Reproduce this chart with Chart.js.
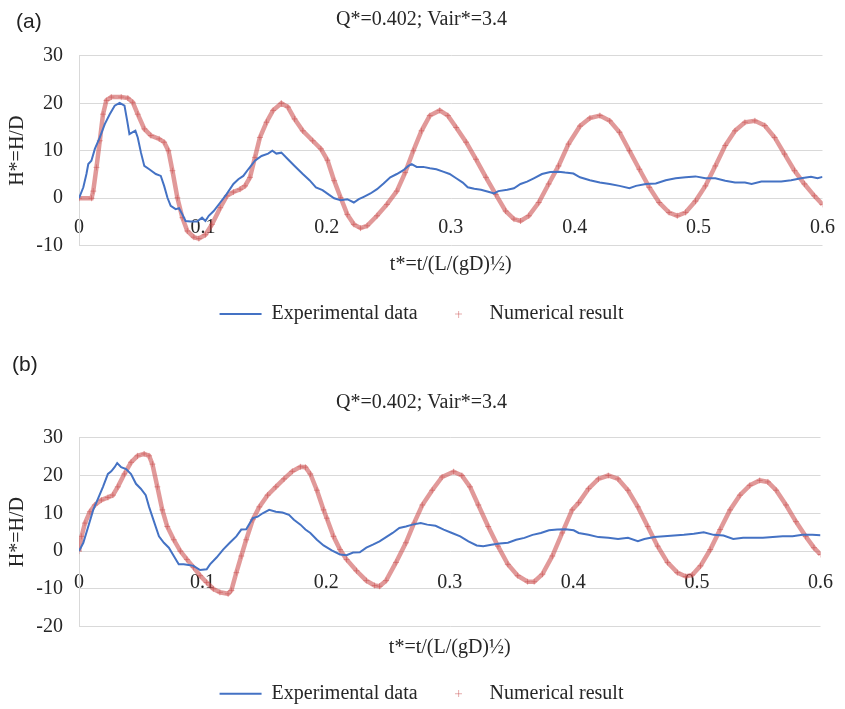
<!DOCTYPE html>
<html>
<head>
<meta charset="utf-8">
<script src="https://cdn.jsdelivr.net/npm/chart.js@4.4.0/dist/chart.umd.min.js"></script>
<style>
  body { margin: 0; background: #fff; overflow: hidden; width: 845px; height: 709px; position: relative; }
  .panel { position: absolute; left: 0; }
  .panel canvas { display: block; }
  .tag { position: absolute; font-family: "Liberation Sans", Arial, sans-serif; font-size: 21px; color: #222; line-height: 24px; }
</style>
</head>
<body>
<div class="panel" style="top:0"><canvas id="chartA" width="845" height="336"></canvas></div>
<div class="panel" style="top:336px"><canvas id="chartB" width="845" height="380"></canvas></div>
<div class="tag" style="left:16px; top:9px">(a)</div>
<div class="tag" style="left:12px; top:352px">(b)</div>
<script>
// labels
const titleText = 'Q*=0.402; Vair*=3.4';
const xTitleText = 't*=t/(L/(gD)½)';
const yTitleText = 'H*=H/D';
const seriesNames = ['Experimental data', 'Numerical result'];
const xRange = [0, 0.6];
const yRangeA = [-10, 30];
const yRangeB = [-20, 30];

// (a) experimental, [t*, H*]
const expA = [
  [0,0],[0.0035,2.3],[0.006,5.1],[0.0075,7.2],[0.010,7.9],[0.0128,10.4],[0.0168,12.8],[0.0208,15.6],
  [0.0248,17.7],[0.0288,19.5],[0.0328,20.1],[0.0367,19.5],[0.0389,16.3],[0.0407,13.5],[0.0434,13.9],
  [0.0455,14.2],[0.0474,12.8],[0.050,9.6],[0.0527,6.8],[0.0567,6.1],[0.062,5.1],[0.066,4.7],[0.0687,2.6],
  [0.0714,0.1],[0.074,-1.6],[0.078,-2.3],[0.0807,-2.1],[0.0834,-3.4],[0.086,-4.8],[0.090,-4.9],[0.0953,-4.9],
  [0.0993,-4.1],[0.102,-4.8],[0.1047,-3.7],[0.1087,-2.7],[0.114,-0.9],[0.119,0.8],[0.1246,3.0],[0.1286,4.0],
  [0.1326,4.7],[0.1366,6.1],[0.142,7.9],[0.1473,8.9],[0.1526,9.4],[0.156,10],[0.1593,9.4],[0.1633,9.6],
  [0.1686,8.2],[0.174,6.8],[0.1806,5.1],[0.186,3.8],[0.1912,2.3],[0.1965,1.7],[0.2019,0.7],[0.2059,0],
  [0.2112,-0.4],[0.2165,-0.2],[0.2218,-0.9],[0.2258,-0.2],[0.2298,0.3],[0.2352,1],[0.2405,1.9],[0.2458,3.1],
  [0.2512,4.4],[0.2565,5.1],[0.2618,5.9],[0.2658,6.8],[0.2685,7.2],[0.2725,6.6],[0.2778,6.6],[0.2832,6.3],
  [0.2884,6.1],[0.2938,5.6],[0.2991,5.1],[0.3044,4.2],[0.3097,3.3],[0.3137,2.3],[0.319,2.0],[0.3244,1.8],
  [0.331,1.3],[0.335,1.0],[0.3384,1.5],[0.3456,1.8],[0.351,2.1],[0.3563,3.0],[0.3616,3.5],[0.367,4.2],
  [0.3736,5.1],[0.3803,5.5],[0.387,5.6],[0.3923,5.4],[0.399,5.2],[0.4043,4.4],[0.4123,3.8],[0.4203,3.3],
  [0.4283,3.0],[0.4362,2.6],[0.4442,2.1],[0.4495,2.6],[0.4575,3.0],[0.4655,3.1],[0.4735,3.8],[0.4815,4.2],
  [0.4895,4.4],[0.4975,4.6],[0.5055,4.2],[0.5135,4.2],[0.5215,3.7],[0.5294,3.3],[0.5374,3.3],[0.5428,3.0],
  [0.5507,3.5],[0.5587,3.5],[0.5667,3.5],[0.5747,3.8],[0.5827,4.2],[0.5907,4.5],[0.596,4.2],[0.6,4.5]
];

// (a) numerical
const numA = [
  [0,0],[0.0101,0],[0.0115,1.5],[0.0141,6.5],[0.0168,12.1],[0.0194,17.7],[0.0221,20.6],[0.0261,21.3],
  [0.0341,21.3],[0.0394,21.1],[0.0434,20.2],[0.0474,17.7],[0.0527,14.6],[0.058,13.2],[0.0647,12.5],
  [0.0687,11.8],[0.0722,10],[0.0754,5.8],[0.0794,0.1],[0.0834,-4.1],[0.0874,-6.9],[0.0927,-8.2],
  [0.0967,-8.5],[0.102,-7.7],[0.1073,-5.5],[0.114,-2],[0.1193,0.5],[0.1246,1.3],[0.13,1.9],[0.134,2.6],
  [0.138,4.4],[0.142,8.6],[0.146,12.8],[0.1513,16],[0.1566,18.5],[0.1633,20],[0.1686,19.2],[0.174,16.7],
  [0.1806,14.2],[0.1886,12.1],[0.1952,10.4],[0.2005,8],[0.2059,3.7],[0.2112,0.1],[0.2165,-3.4],
  [0.2218,-5.5],[0.2272,-6.3],[0.2325,-5.8],[0.2405,-3.7],[0.2485,-1.3],[0.2565,1.5],[0.2632,5.4],
  [0.2698,10],[0.2764,14.2],[0.2831,17.4],[0.2911,18.5],[0.2977,17.4],[0.3044,14.9],[0.3124,11.8],
  [0.3204,8.2],[0.3284,4.4],[0.3363,0.8],[0.3443,-2.7],[0.351,-4.4],[0.3563,-4.8],[0.363,-3.7],
  [0.371,-0.9],[0.379,3],[0.387,6.8],[0.395,11.4],[0.4043,15.2],[0.4123,16.9],[0.4203,17.4],[0.4283,16.3],
  [0.4362,13.9],[0.4442,10],[0.4522,6.1],[0.4602,2.3],[0.4682,-0.9],[0.4762,-3],[0.4828,-3.7],[0.4895,-3],
  [0.4975,-0.6],[0.5055,2.6],[0.5135,6.8],[0.5215,11.1],[0.5294,14.2],[0.5374,16],[0.5454,16.3],
  [0.5534,15.3],[0.5614,12.8],[0.5694,9.3],[0.5774,5.8],[0.5854,3],[0.5934,0.5],[0.6,-1.3]
];

// (b) experimental
const expB = [
  [0,0],[0.0035,2.2],[0.0075,6.5],[0.0115,10.9],[0.0154,13.9],[0.0194,17],[0.0234,20.4],[0.0261,21.1],
  [0.0288,22.2],[0.0309,23.3],[0.0341,22.2],[0.0381,21.7],[0.0421,20.4],[0.0461,17.8],[0.05,16.5],
  [0.054,14.8],[0.0567,11.7],[0.0607,7.8],[0.0647,3.9],[0.0687,2.2],[0.0727,0.9],[0.0767,-1.3],
  [0.0807,-3.5],[0.0847,-3.5],[0.0887,-3.7],[0.0927,-3.9],[0.098,-5],[0.1033,-4.8],[0.106,-3.5],
  [0.1113,-1.7],[0.1166,0.4],[0.122,2.2],[0.1273,3.9],[0.1313,5.7],[0.1353,5.8],[0.1406,8.7],[0.1446,9.1],
  [0.1486,10],[0.1539,10.9],[0.1593,10.4],[0.1646,10.2],[0.1699,9.6],[0.1739,8.3],[0.1792,7],[0.1832,5.7],
  [0.1872,4.8],[0.1925,3],[0.1979,1.5],[0.2045,0.2],[0.2112,-0.9],[0.2165,-1.1],[0.2218,-0.4],[0.2272,-0.3],
  [0.2325,0.9],[0.2378,1.7],[0.2432,2.6],[0.2485,3.7],[0.2538,4.8],[0.2592,6.1],[0.2645,6.5],[0.2698,7],
  [0.2765,7.4],[0.2818,7],[0.2885,6.7],[0.2951,5.7],[0.3018,4.8],[0.3085,3.9],[0.3151,2.6],[0.3218,1.5],
  [0.3271,1.3],[0.3337,1.7],[0.3404,2],[0.3471,2.2],[0.3537,3],[0.3604,3.5],[0.367,4.3],[0.3737,4.8],
  [0.3803,5.5],[0.387,5.7],[0.3937,5.8],[0.4003,5.5],[0.4043,4.8],[0.4123,4.3],[0.4203,3.7],[0.4283,3.5],
  [0.4362,3.2],[0.4442,3.5],[0.4522,2.6],[0.4575,3.2],[0.4655,3.7],[0.4735,3.9],[0.4815,4.1],[0.4895,4.3],
  [0.4975,4.6],[0.5055,5],[0.5135,4.3],[0.5215,4.1],[0.5294,3.2],[0.5374,3.5],[0.5454,3.5],[0.5534,3.5],
  [0.5614,3.7],[0.5694,3.9],[0.5774,3.9],[0.5854,4.3],[0.5934,4.3],[0.6,4.2]
];

// (b) numerical
const numB = [
  [0,0],[0.0021,3.9],[0.0048,7.4],[0.0088,10.4],[0.0128,12.2],[0.0181,13.5],[0.0234,14.2],[0.0274,14.8],
  [0.0314,17],[0.0367,20.4],[0.0421,23.5],[0.0474,25.2],[0.0527,25.7],[0.0567,25.2],[0.0594,23],
  [0.0634,17],[0.0674,10.9],[0.0714,6.5],[0.0767,3],[0.082,0],[0.0873,-2.2],[0.0927,-4.3],[0.098,-6.5],
  [0.1033,-8.3],[0.1087,-10],[0.114,-10.9],[0.1206,-11.3],[0.1233,-10.4],[0.1273,-5.7],[0.1313,-1.3],
  [0.1353,3],[0.1406,8.3],[0.1459,11.7],[0.1526,14.8],[0.1593,17],[0.1659,19.1],[0.1726,21.1],
  [0.1792,22.3],[0.1832,22.2],[0.1872,20.4],[0.1925,16.1],[0.1979,10.9],[0.2005,8.7],[0.2059,3.9],
  [0.2112,0.4],[0.2165,-2.2],[0.2245,-5.2],[0.2325,-7.8],[0.2392,-9.1],[0.2432,-9.3],[0.2485,-7.8],
  [0.2565,-3],[0.2645,2.2],[0.2711,7.4],[0.2778,12.2],[0.2858,16.1],[0.2938,19.6],[0.3031,21],[0.3098,20],
  [0.3164,17],[0.3231,12.2],[0.3311,6.5],[0.339,1.3],[0.347,-3.5],[0.355,-6.5],[0.363,-8.1],[0.3683,-8.1],
  [0.375,-6.1],[0.383,-1.3],[0.391,4.8],[0.399,10.9],[0.4043,12.8],[0.4123,16.5],[0.4203,19.1],[0.4283,20],
  [0.4362,19.1],[0.4442,16.1],[0.4522,11.7],[0.4602,6.5],[0.4682,1.3],[0.4762,-3],[0.4842,-5.7],
  [0.4909,-6.7],[0.4962,-6.3],[0.5029,-3.9],[0.5108,0.4],[0.5188,5.7],[0.5268,10.9],[0.5348,14.8],
  [0.5428,17.4],[0.5508,18.7],[0.5574,18.3],[0.5641,16.1],[0.5721,12.2],[0.5801,7.8],[0.588,3.9],
  [0.5947,0.9],[0.6,-0.9]
];

const serif = "'Liberation Serif', 'Times New Roman', serif";
const ink = '#262626';
const gridGray = '#d9d9d9';
const blue = '#4472C4';
const redBand = 'rgba(200, 70, 70, 0.55)';
const redMark = 'rgba(200, 70, 70, 0.45)';
const txt = { family: serif, size: 20 };

// tiny "+" used as the legend marker of the numerical series
const plusMark = document.createElement('canvas');
plusMark.width = 7;
plusMark.height = 7;
const pctx = plusMark.getContext('2d');
pctx.strokeStyle = 'rgba(200, 70, 70, 0.45)';
pctx.lineWidth = 1;
pctx.beginPath();
pctx.moveTo(0, 3.5); pctx.lineTo(7, 3.5);
pctx.moveTo(3.5, 0); pctx.lineTo(3.5, 7);
pctx.stroke();

function toPoints(arr) {
  return arr.map(p => ({ x: p[0], y: p[1] }));
}

function buildChart(id, exp, num, yRange, L) {
  return new Chart(document.getElementById(id), {
    type: 'scatter',
    data: {
      datasets: [{
        label: seriesNames[0],
        data: toPoints(exp),
        showLine: true,
        borderColor: blue,
        backgroundColor: blue,
        borderWidth: 2,
        pointRadius: 0,
        pointStyle: 'line'
      }, {
        label: seriesNames[1],
        data: toPoints(num),
        showLine: true,
        borderColor: redBand,
        backgroundColor: redBand,
        borderWidth: 4.5,
        pointStyle: 'cross',
        pointRadius: 3,
        pointBorderWidth: 1,
        pointBorderColor: redMark
      }]
    },
    options: {
      responsive: false,
      animation: false,
      layout: { padding: { left: 13, right: 15, top: 0, bottom: L.bottom } },
      plugins: {
        tooltip: { enabled: false },
        title: {
          display: true,
          text: titleText,
          color: ink,
          font: { family: serif, size: 20, weight: 'normal' },
          padding: { top: L.titleTop, bottom: L.titleBottom }
        },
        legend: {
          position: 'bottom',
          labels: {
            usePointStyle: true,
            pointStyleWidth: 42,
            boxHeight: 4,
            padding: 20,
            color: ink,
            font: txt,
            generateLabels: chart => {
              const items = Chart.defaults.plugins.legend.labels.generateLabels(chart);
              items[0].lineWidth = 2;
              items[0].strokeStyle = blue;
              items[1].pointStyle = plusMark;
              return items;
            }
          }
        }
      },
      scales: {
        x: {
          type: 'linear',
          min: xRange[0],
          max: xRange[1],
          position: { y: 0 },
          grid: { display: false },
          border: { display: false },
          ticks: { stepSize: 0.1, padding: L.tickPad, color: ink, font: txt }
        },
        xTitle: {
          type: 'linear',
          axis: 'x',
          position: 'bottom',
          min: xRange[0],
          max: xRange[1],
          grid: { display: false },
          border: { display: false },
          ticks: { display: false },
          title: { display: true, text: xTitleText, color: ink, font: txt, padding: { top: 0, bottom: L.xtPad } },
          afterFit: s => { s.height = L.xtHeight; }
        },
        y: {
          min: yRange[0],
          max: yRange[1],
          ticks: { stepSize: 10, padding: 16, color: ink, font: txt },
          grid: { color: gridGray, drawTicks: false },
          border: { display: true, color: gridGray },
          title: { display: true, text: yTitleText, color: ink, font: txt, padding: { top: -7, bottom: 0 } },
          afterFit: s => { s.width = 66; }
        }
      }
    }
  });
}

buildChart('chartA', expA, numA, yRangeA,
  { titleTop: 8, titleBottom: 23.8, bottom: 2, xtHeight: 38.3, xtPad: 7.5, tickPad: 10 });
buildChart('chartB', expB, numB, yRangeB,
  { titleTop: 55, titleBottom: 22.7, bottom: 2.3, xtHeight: 37, xtPad: 3.7, tickPad: 12 });
</script>
</body>
</html>
